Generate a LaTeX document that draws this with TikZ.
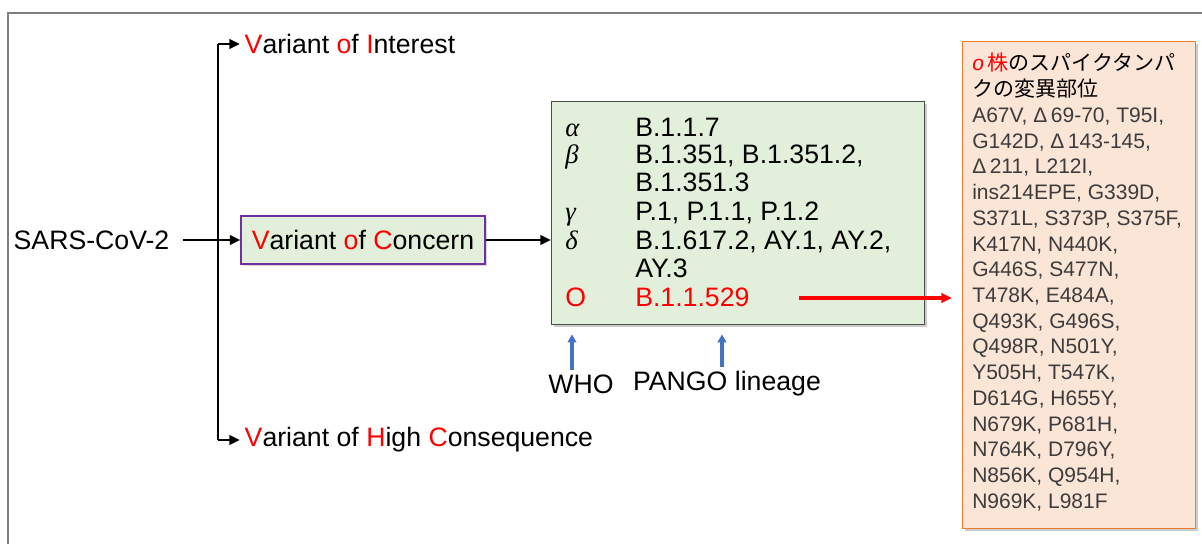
\documentclass[tikz,border=0pt]{standalone}
\usepackage{fontspec}
\setmainfont{Liberation Sans}
\newfontfamily\cjk{Noto Sans CJK JP}
\newfontfamily\grk{Liberation Serif}
\usepackage{xcolor}
\usetikzlibrary{arrows.meta, shadows}

\definecolor{boxgreen}{RGB}{226,239,218}
\definecolor{boxorange}{RGB}{251,229,214}
\definecolor{lineorange}{RGB}{237,125,49}
\definecolor{vocpurple}{RGB}{112,48,160}
\definecolor{idblue}{RGB}{68,114,196}
\definecolor{mutgray}{RGB}{60,60,60}

\newcommand{\rl}[1]{\textcolor{red}{#1}}

\begin{document}
\begin{tikzpicture}[x=0.75pt, y=-0.75pt,
  lbl/.style     = {font=\fontsize{20}{24}\selectfont},
  row/.style     = {font=\fontsize{20}{24}\selectfont, inner sep=0pt, anchor=base west},
  link/.style    = {line width=2.2pt, -{Triangle[length=8pt,width=7pt]}},
  trunk/.style   = {line width=2.2pt},
  frame/.style   = {draw=black!50, line width=1.5pt},
  vocbox/.style  = {lbl, draw=vocpurple, fill=boxgreen, line width=0.8pt,
    minimum width=183pt, minimum height=36pt,
    drop shadow={shadow xshift=1.2pt, shadow yshift=-1.2pt, opacity=0.3}},
  linbox/.style  = {draw=black!70, fill=boxgreen, line width=0.8pt,
    minimum width=279.75pt, minimum height=167.25pt,
    drop shadow={shadow xshift=1.5pt, shadow yshift=-1.5pt, opacity=0.4}},
  mutbox/.style  = {draw=lineorange, fill=boxorange, line width=0.8pt,
    minimum width=174.75pt, minimum height=365.25pt,
    drop shadow={shadow xshift=1.5pt, shadow yshift=-1.5pt, opacity=0.4}},
  mutlist/.style = {font=\fontsize{15.75}{19.3}\selectfont, text=mutgray,
    inner sep=0pt, align=left},
  omarrow/.style = {draw=red, line width=2.8pt, -{Triangle[length=8pt,width=7pt]}},
  idarrow/.style = {draw=idblue, line width=3.2pt, -{Triangle[length=6pt,width=6.5pt]}}
]
  \useasboundingbox (0,0) rectangle (1202,544);
  \draw[frame] (8,544) |- (1202,13);

  % left part: the three kinds of variant
  \node[lbl, anchor=west] (sars) at (9,240) {SARS-CoV-2};
  \node[vocbox] (voc) at (363,240) {\rl{V}ariant \rl{o}f \rl{C}oncern};
  \node[lbl, anchor=west] (voi) at (240,44) {\rl{V}ariant \rl{o}f \rl{I}nterest};
  \node[lbl, anchor=west] (vohc) at (240,440) {\rl{V}ariant of \rl{H}igh \rl{C}onsequence};
  \coordinate (trunktop) at (218,44);
  \coordinate (trunkbot) at (218,440);
  \draw[trunk] (trunktop) -- (trunkbot);
  \draw[link] (trunktop) -- (voi.west);
  \draw[link] (trunkbot) -- (vohc.west);
  \draw[link, shorten <=7pt] (sars.east) -- (voc.west);

  % lineage table
  \node[linbox, anchor=north west] (lineage) at (551,101) {};
  \draw[link] (voc.east) -- (voc.east -| lineage.west);

  \node[row] (ga) at (565,136) {\grk\itshape α};
  \node[row] (la) at (635,136) {B.1.1.7};
  \node[row] (gb) at (565,163) {\grk\itshape β};
  \node[row] (lb) at (635,163) {B.1.351, B.1.351.2,};
  \node[row] (lb2) at (635,191) {B.1.351.3};
  \node[row] (gg) at (565,220) {\grk\itshape γ};
  \node[row] (lg) at (635,220) {P.1, P.1.1, P.1.2};
  \node[row] (gd) at (565,249) {\grk\itshape δ};
  \node[row] (ld) at (635,249) {B.1.617.2, AY.1, AY.2,};
  \node[row] (ld2) at (635,277) {AY.3};
  \node[row, text=red] (go) at (565,306) {O};
  \node[row, text=red] (lo) at (635,306) {B.1.1.529};

  \node[lbl] (who) at (581,384) {WHO};
  \node[lbl] (pango) at (727,384) {PANGO lineage};
  \draw[idarrow, shorten >=7pt] ([xshift=-6.75pt]who.north) -- ([xshift=-6.75pt]who.north |- lineage.south);
  \draw[idarrow, shorten >=7pt] ([xshift=-3.75pt]pango.north) -- ([xshift=-3.75pt]pango.north |- lineage.south);

  % spike mutations of omicron
  \node[mutbox, anchor=north west] (mutbox) at (962,41) {};
  \node[mutlist, anchor=north west] (mutlist) at (972,53) {%
    {\color{red}\textit{ο}\,{\cjk 株}}{\color{black}\cjk のスパイクタンパ}\\
    {\color{black}\cjk クの変異部位}\\
    A67V, Δ\,69-70, T95I,\\
    G142D, Δ\,143-145,\\
    Δ\,211, L212I,\\
    ins214EPE, G339D,\\
    S371L, S373P, S375F,\\
    K417N, N440K,\\
    G446S, S477N,\\
    T478K, E484A,\\
    Q493K, G496S,\\
    Q498R, N501Y,\\
    Y505H, T547K,\\
    D614G, H655Y,\\
    N679K, P681H,\\
    N764K, D796Y,\\
    N856K, Q954H,\\
    N969K, L981F};
  \coordinate (omi) at (799,298);
  \draw[omarrow, shorten >=7.5pt] (omi) -- (omi -| mutbox.west);
\end{tikzpicture}
\end{document}
